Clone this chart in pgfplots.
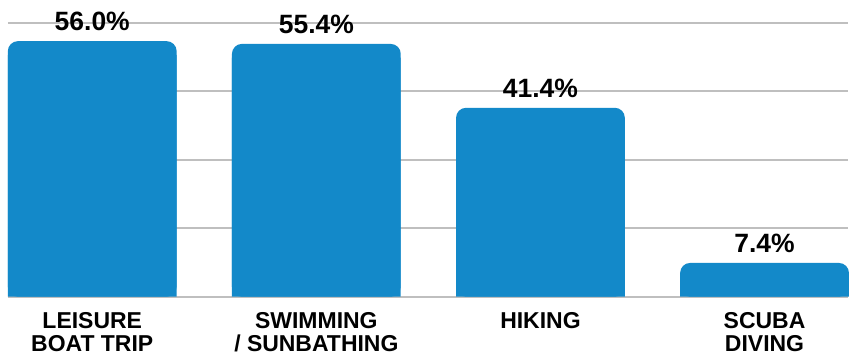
\documentclass[border=0pt]{standalone}
\usepackage{pgfplots}
\usepackage{pgfplotstable}
\usepackage{fontspec}
\setmainfont{Liberation Sans}
\pgfplotsset{compat=1.18}
\definecolor{barblue}{RGB}{19,137,201}
\definecolor{gridgray}{RGB}{191,191,191}
\pgfplotstableread{
x v
0 56.0
1 55.4
2 41.4
3 7.4
}\datatable
\begin{document}
\begin{tikzpicture}
\begin{axis}[
  at={(0,0)}, anchor=south west,
  scale only axis, width=841pt, height=297pt,
  xmin=-0.376, xmax=3.372, ymin=0, ymax=65,
  axis line style={draw=none},
  major tick length=0pt,
  ytick={0,15,30,45,60}, yticklabels={},
  ymajorgrids, grid style={gridgray, line width=2.2pt},
  xtick={0,1,2,3},
  xticklabels={{LEISURE\\BOAT TRIP},{SWIMMING\\/ SUNBATHING},{HIKING},{SCUBA\\DIVING}},
  xticklabel style={font=\fontsize{23}{23.5}\selectfont\bfseries, align=center, anchor=north, inner sep=0pt, yshift=-15.5pt},
  /pgf/number format/assume math mode=true,
  ybar, bar width=169pt, bar shift=0pt,
  clip=false,
]
\addplot[fill=barblue, draw=none, rounded corners=10pt,
  nodes near coords={\pgfmathprintnumber[fixed,fixed zerofill,precision=1]{\pgfplotspointmeta}\%},
  every node near coord/.append style={font=\fontsize{26.5}{28}\selectfont\bfseries, black, anchor=south, inner sep=0pt, yshift=10pt}]
  table[x=x, y=v] {\datatable};
\addplot[fill=barblue, draw=none]
  table[x=x, y expr=\thisrow{v}-3] {\datatable};
\end{axis}
\path (-8pt,-59pt) rectangle (0pt,1pt);
\end{tikzpicture}
\end{document}
